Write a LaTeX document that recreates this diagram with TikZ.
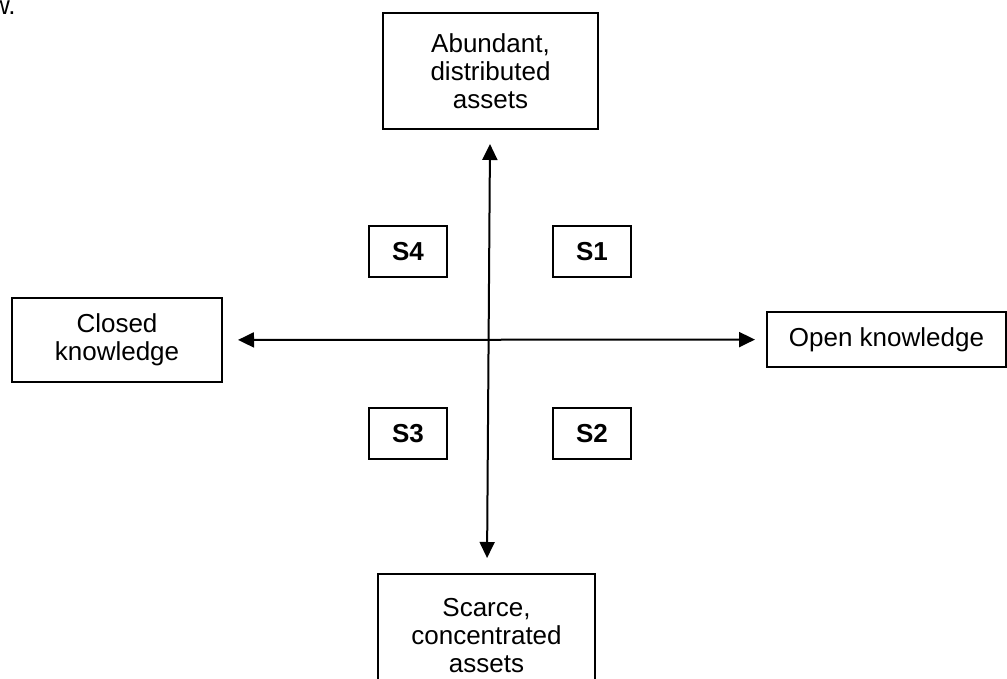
\documentclass[tikz,border=0pt]{standalone}
\usepackage{fontspec}
\setmainfont{Liberation Sans}
\usetikzlibrary{arrows.meta}

\begin{document}
\begin{tikzpicture}[x=0.5pt,y=-0.5pt,
    box/.style={draw=black,line width=1pt,align=center,inner sep=0pt,font=\fontsize{13}{14}\selectfont},
    sbox/.style={draw=black,line width=1pt,minimum width=39pt,minimum height=25.5pt,inner sep=0pt,font=\fontsize{13}{14}\selectfont\bfseries},
    axis/.style={line width=1pt,{Triangle[length=8pt,width=7.5pt]}-{Triangle[length=8pt,width=7.5pt]}}]
            
                \useasboundingbox (0,0) rectangle (1007,679);
                \node[anchor=base east,inner sep=0pt,font=\fontsize{13}{14}\selectfont] (prev) at (16,15) {w.};

                \node[box,minimum width=107.5pt,minimum height=58pt] (abund) at (490.5,71) {Abundant,\\distributed\\assets};
                \node[box,minimum width=108.5pt,minimum height=62pt] (scarce) at (486.5,636) {Scarce,\\concentrated\\assets};
                \node[box,minimum width=105pt,minimum height=42pt] (closed) at (117,340) {Closed\\knowledge};
                \node[box,minimum width=119.5pt,minimum height=27.5pt] (open) at (886.5,339.5) {Open knowledge};

                \node[sbox] (s4) at (408,251.5) {S4};
                \node[sbox] (s1) at (592,251.5) {S1};
                \node[sbox] (s3) at (408,433.5) {S3};
                \node[sbox] (s2) at (592,433.5) {S2};

                \draw[axis,shorten <=7pt,shorten >=7.5pt] (abund) -- (scarce);
                \draw[axis,shorten <=7.5pt,shorten >=5.5pt] (closed) -- (open);
        
\end{tikzpicture}
\end{document}
